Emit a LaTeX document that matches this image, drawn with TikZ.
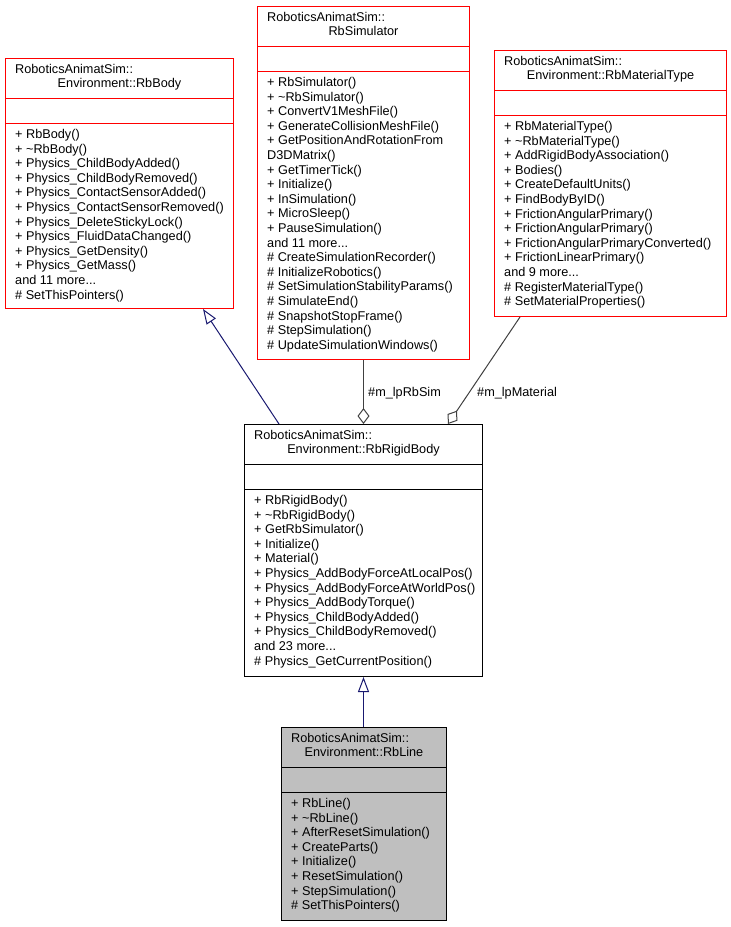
\documentclass[tikz,border=0pt]{standalone}
\usepackage{fontspec}
\setmainfont{Liberation Sans}
\usetikzlibrary{arrows.meta,calc}
\definecolor{navyline}{HTML}{191970}
\definecolor{edgegray}{HTML}{404040}
\definecolor{boxgray}{HTML}{BFBFBF}
\newcommand\umlclass[9]{%
  \node[boxshape, draw=#6, fill=#7, minimum width={#4-#2}, minimum height={#5-#3}, anchor=north west] (#1) at (#2,#3) {};
  \draw[line width=1pt, #6] ($(#1.north west)+(0,40)$) -- ($(#1.north east)+(0,40)$)
    ($(#1.north west)+(0,65)$) -- ($(#1.north east)+(0,65)$);
  \node[txt] (#1-t1) at ($(#1.north west)+(10,15)$) {RoboticsAnimatSim::};
  \node[ctxt] (#1-t2) at ($(#1.north)+(0,29.6)$) {#8};
  \foreach \t [count=\i from 0] in {#9}
    \node[txt] (#1-m\i) at ($(#1.north west)+(10,80.5+\i*14.6)$) {\t};
}
\begin{document}
\begin{tikzpicture}[x=1pt,y=-1pt,
  every node/.style={font=\fontsize{12.7}{14.6}\selectfont, inner sep=0pt, text=black},
  boxshape/.style={rectangle, line width=1pt},
  txt/.style={anchor=base west},
  ctxt/.style={anchor=base},
  inh/.style={draw=navyline, line width=1pt, -{Triangle[open,length=15pt,width=11pt]}},
  agg/.style={draw=edgegray, line width=1pt, -{Diamond[open,length=16pt,width=12pt]}}]
\useasboundingbox (0,0) rectangle (731,927);

\umlclass{body}{5}{58}{233}{308}{red}{white}{Environment::RbBody}{%
+ RbBody(),%
+ \textasciitilde RbBody(),%
+ Physics\_ChildBodyAdded(),%
+ Physics\_ChildBodyRemoved(),%
+ Physics\_ContactSensorAdded(),%
+ Physics\_ContactSensorRemoved(),%
+ Physics\_DeleteStickyLock(),%
+ Physics\_FluidDataChanged(),%
+ Physics\_GetDensity(),%
+ Physics\_GetMass(),%
{and 11 more.{}.{}.},%
\# SetThisPointers()}

\umlclass{sim}{257}{6}{469}{359}{red}{white}{RbSimulator}{%
+ RbSimulator(),%
+ \textasciitilde RbSimulator(),%
+ ConvertV1MeshFile(),%
+ GenerateCollisionMeshFile(),%
+ GetPositionAndRotationFrom,%
D3DMatrix(),%
+ GetTimerTick(),%
+ Initialize(),%
+ InSimulation(),%
+ MicroSleep(),%
+ PauseSimulation(),%
{and 11 more.{}.{}.},%
\# CreateSimulationRecorder(),%
\# InitializeRobotics(),%
\# SetSimulationStabilityParams(),%
\# SimulateEnd(),%
\# SnapshotStopFrame(),%
\# StepSimulation(),%
\# UpdateSimulationWindows()}

\umlclass{mat}{494}{50}{726}{316}{red}{white}{Environment::RbMaterialType}{%
+ RbMaterialType(),%
+ \textasciitilde RbMaterialType(),%
+ AddRigidBodyAssociation(),%
+ Bodies(),%
+ CreateDefaultUnits(),%
+ FindBodyByID(),%
+ FrictionAngularPrimary(),%
+ FrictionAngularPrimary(),%
+ FrictionAngularPrimaryConverted(),%
+ FrictionLinearPrimary(),%
{and 9 more.{}.{}.},%
\# RegisterMaterialType(),%
\# SetMaterialProperties()}

\umlclass{rigid}{244}{424}{482}{676}{black}{white}{Environment::RbRigidBody}{%
+ RbRigidBody(),%
+ \textasciitilde RbRigidBody(),%
+ GetRbSimulator(),%
+ Initialize(),%
+ Material(),%
+ Physics\_AddBodyForceAtLocalPos(),%
+ Physics\_AddBodyForceAtWorldPos(),%
+ Physics\_AddBodyTorque(),%
+ Physics\_ChildBodyAdded(),%
+ Physics\_ChildBodyRemoved(),%
{and 23 more.{}.{}.},%
\# Physics\_GetCurrentPosition()}

\umlclass{line}{281}{727}{446}{920}{black}{boxgray}{Environment::RbLine}{%
+ RbLine(),%
+ \textasciitilde RbLine(),%
+ AfterResetSimulation(),%
+ CreateParts(),%
+ Initialize(),%
+ ResetSimulation(),%
+ StepSimulation(),%
\# SetThisPointers()}

\draw[inh] ($(rigid.north west)+(35,0)$) -- ($(body.south west)+(198,0)$);
\draw[inh] (rigid.south |- line.north) -- (rigid.south);
\draw[agg] (sim.south) -- (rigid.north);
\draw[agg] ($(mat.south west)+(26,0)$) -- ($(rigid.north west)+(204,0)$);
\node[txt] (lblsim) at (368,396) {\#m\_lpRbSim};
\node[txt] (lblmat) at (477,396) {\#m\_lpMaterial};
\end{tikzpicture}
\end{document}
